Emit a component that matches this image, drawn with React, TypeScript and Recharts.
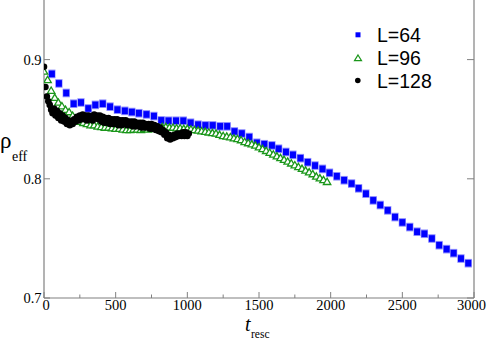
import React from 'react';
import { ScatterChart, Scatter, XAxis, YAxis } from 'recharts';

// ---- data ----
const t64 = [55, 104, 155, 207, 258, 309, 358, 410, 461, 512,
  564, 613, 662, 715, 767, 818, 869, 921, 972, 1023,
  1075, 1126, 1177, 1229, 1278, 1329, 1380, 1432, 1485, 1537,
  1590, 1637, 1688, 1737, 1789, 1840, 1891, 1943, 1992, 2043,
  2094, 2146, 2195, 2246, 2297, 2346, 2398, 2449, 2500, 2552,
  2603, 2654, 2706, 2757, 2809, 2858, 2909, 2960];
const rho64 = [0.888, 0.880, 0.872, 0.863, 0.864, 0.859, 0.862, 0.863, 0.8605, 0.858,
  0.857, 0.856, 0.855, 0.854, 0.8526, 0.849, 0.8487, 0.8487, 0.8487, 0.847,
  0.8454, 0.8448, 0.8448, 0.844, 0.844, 0.8397, 0.838, 0.835, 0.8302, 0.829,
  0.828, 0.8252, 0.8225, 0.8201, 0.8173, 0.8139, 0.8111, 0.8083, 0.805, 0.8021,
  0.7988, 0.796, 0.792, 0.7875, 0.7819, 0.778, 0.7735, 0.7679, 0.7634, 0.7595,
  0.7556, 0.7539, 0.7499, 0.7443, 0.741, 0.7376, 0.7331, 0.7292];

const t96 = [0, 25, 50, 75, 100, 125, 150, 175, 200, 225,
  250, 275, 300, 325, 350, 375, 400, 425, 450, 475,
  500, 525, 550, 575, 600, 625, 650, 675, 700, 725,
  750, 775, 800, 825, 850, 875, 900, 925, 950, 975,
  1000, 1025, 1050, 1075, 1100, 1125, 1150, 1175, 1200, 1225,
  1250, 1275, 1300, 1325, 1350, 1375, 1400, 1425, 1450, 1475,
  1500, 1525, 1550, 1575, 1600, 1625, 1650, 1675, 1700, 1725,
  1750, 1775, 1800, 1825, 1850, 1875, 1900, 1925, 1950, 1975];
const rho96 = [0.890, 0.883, 0.874, 0.868, 0.864, 0.861, 0.858, 0.856, 0.853, 0.850,
  0.848, 0.847, 0.846, 0.845, 0.845, 0.844, 0.8435, 0.843, 0.843, 0.8425,
  0.842, 0.842, 0.8415, 0.841, 0.841, 0.8415, 0.8415, 0.841, 0.842, 0.8415,
  0.842, 0.8425, 0.843, 0.8435, 0.8435, 0.843, 0.843, 0.8425, 0.8425, 0.842,
  0.842, 0.8415, 0.841, 0.8405, 0.840, 0.8395, 0.839, 0.8385, 0.838, 0.837,
  0.836, 0.8355, 0.835, 0.834, 0.8335, 0.8325, 0.831, 0.830, 0.829, 0.828,
  0.8265, 0.825, 0.8235, 0.822, 0.8205, 0.819, 0.8175, 0.816, 0.8145, 0.813,
  0.8115, 0.810, 0.8085, 0.807, 0.8055, 0.804, 0.802, 0.8005, 0.799, 0.7975];

const t128 = [0, 10, 20, 30, 40, 50, 60, 70, 80, 90,
  100, 110, 120, 130, 140, 150, 160, 170, 180, 190,
  200, 210, 220, 230, 240, 250, 260, 270, 280, 290,
  300, 310, 320, 330, 340, 350, 360, 370, 380, 390,
  400, 410, 420, 430, 440, 450, 460, 470, 480, 490,
  500, 510, 520, 530, 540, 550, 560, 570, 580, 590,
  600, 610, 620, 630, 640, 650, 660, 670, 680, 690,
  700, 710, 720, 730, 740, 750, 760, 770, 780, 790,
  800, 810, 820, 830, 840, 850, 860, 870, 880, 890,
  900, 910, 920, 930, 940, 950, 960, 970, 980, 990,
  1000, 1010];
const rho128 = [0.894, 0.877, 0.869, 0.865, 0.862, 0.858, 0.855, 0.859, 0.853, 0.857,
  0.851, 0.855, 0.849, 0.853, 0.848, 0.851, 0.846, 0.849, 0.845, 0.847,
  0.846, 0.850, 0.848, 0.852, 0.849, 0.853, 0.850, 0.854, 0.850, 0.853,
  0.849, 0.853, 0.850, 0.852, 0.849, 0.854, 0.851, 0.853, 0.850, 0.853,
  0.848, 0.852, 0.847, 0.851, 0.847, 0.851, 0.846, 0.850, 0.846, 0.850,
  0.846, 0.850, 0.845, 0.849, 0.845, 0.849, 0.846, 0.849, 0.845, 0.848,
  0.845, 0.848, 0.844, 0.848, 0.844, 0.847, 0.844, 0.847, 0.843, 0.847,
  0.843, 0.846, 0.843, 0.846, 0.842, 0.846, 0.842, 0.845, 0.841, 0.844,
  0.840, 0.843, 0.839, 0.841, 0.837, 0.839, 0.834, 0.837, 0.833, 0.836,
  0.834, 0.837, 0.835, 0.838, 0.836, 0.838, 0.836, 0.839, 0.836, 0.839,
  0.836, 0.838];

const xTicks = [0, 250, 500, 750, 1000, 1250, 1500, 1750, 2000, 2250, 2500, 2750, 3000];
const xMajor = [0, 500, 1000, 1500, 2000, 2500, 3000];
const yTicks = [0.7, 0.8, 0.9];
const yLabels = ['0.7', '0.8', '0.9'];
const seriesNames = ['L=64', 'L=96', 'L=128'];

const toData = (t: number[], r: number[]) => t.map((x, i) => ({ t: x, rho: r[i] }));
const data64 = toData(t64, rho64);
const data96 = toData(t96, rho96);
const data128 = toData(t128, rho128);

// ---- styles ----
const AXIS = '#808080';
const SERIF = "'Liberation Serif', 'Times New Roman', Times, serif";
const SANS = "'Liberation Sans', Arial, Helvetica, sans-serif";
const BLUE = '#0000ff';
const GREEN = '#1a961a';

const serifStyle = { fontFamily: SERIF };
const sansStyle = { fontFamily: SANS };

const BottomTick = (p: any) => {
  const { x, y, payload } = p;
  const v = payload.value;
  const major = xMajor.includes(v);
  return (
    <g>
      <line x1={x} x2={x} y1={y} y2={y - (major ? 6 : 3.5)} stroke={AXIS} strokeWidth={1} />
      {major && (
        <text x={x + (v === 0 ? 2 : v === 3000 ? -2.5 : 0)} y={y + 11.5} textAnchor="middle" style={serifStyle} fontSize={14.5} fill="#000">
          {String(v)}
        </text>
      )}
    </g>
  );
};

const TopTick = (p: any) => {
  const { x, y, payload } = p;
  const major = xMajor.includes(payload.value);
  return <line x1={x} x2={x} y1={y} y2={y + (major ? 6 : 4.5)} stroke={AXIS} strokeWidth={1} />;
};

const LeftTick = (p: any) => {
  const { x, y, payload } = p;
  const idx = yTicks.indexOf(payload.value);
  return (
    <g>
      <line x1={x} x2={x + 6} y1={y} y2={y} stroke={AXIS} strokeWidth={1} />
      <text x={x - 2.5} y={y + 5} textAnchor="end" style={serifStyle} fontSize={14.5} fill="#000">
        {idx >= 0 ? yLabels[idx] : ''}
      </text>
    </g>
  );
};

const RightTick = (p: any) => {
  const { x, y } = p;
  return <line x1={x} x2={x - 7} y1={y} y2={y} stroke={AXIS} strokeWidth={1} />;
};

const BlueSquare = (p: any) => {
  const { cx, cy } = p;
  if (cx == null || cy == null) return <g />;
  return (
    <g>
      <rect x={cx - 3.6} y={cy - 4.3} width={7.2} height={8.6} fill="#8c8cff" />
      <rect x={cx - 3} y={cy - 3.3} width={6} height={6.6} fill={BLUE} />
    </g>
  );
};

const GreenTriangle = (p: any) => {
  const { cx, cy } = p;
  if (cx == null || cy == null) return <g />;
  return (
    <polygon
      points={`${cx},${cy - 3.6} ${cx + 3.7},${cy + 2.7} ${cx - 3.7},${cy + 2.7}`}
      fill="#ffffff"
      stroke={GREEN}
      strokeWidth={1.3}
    />
  );
};

const BlackCircle = (p: any) => {
  const { cx, cy } = p;
  if (cx == null || cy == null) return <g />;
  return <circle cx={cx} cy={cy} r={3.3} fill="#000" />;
};

export default function App() {
  return (
    <div style={{ position: 'absolute', left: 0, top: 0, width: 491, height: 340, background: '#fff' }}>
      <ScatterChart width={491} height={340} margin={{ top: 0, right: 0, bottom: 0, left: 0 }}>
        <XAxis
          dataKey="t"
          type="number"
          domain={[0, 3000]}
          allowDataOverflow
          ticks={xTicks}
          interval={0}
          height={42}
          tickSize={0}
          tickMargin={0}
          tickLine={false}
          axisLine={{ stroke: AXIS, strokeWidth: 1.2 }}
          tick={BottomTick}
        />
        <XAxis
          xAxisId="top"
          orientation="top"
          type="number"
          domain={[0, 3000]}
          allowDataOverflow
          ticks={xTicks}
          interval={0}
          height={0}
          tickSize={0}
          tickMargin={0}
          tickLine={false}
          axisLine={false}
          tick={TopTick}
        />
        <YAxis
          dataKey="rho"
          type="number"
          domain={[0.7, 0.95]}
          allowDataOverflow
          ticks={yTicks}
          interval={0}
          width={44}
          tickSize={0}
          tickMargin={0}
          tickLine={false}
          axisLine={{ stroke: AXIS, strokeWidth: 1.2 }}
          tick={LeftTick}
        />
        <YAxis
          yAxisId="right"
          orientation="right"
          type="number"
          domain={[0.7, 0.95]}
          allowDataOverflow
          ticks={yTicks}
          interval={0}
          width={17}
          tickSize={0}
          tickMargin={0}
          tickLine={false}
          axisLine={{ stroke: AXIS, strokeWidth: 1.2 }}
          tick={RightTick}
        />
        <Scatter name={seriesNames[0]} data={data64} shape={BlueSquare} isAnimationActive={false} />
        <Scatter name={seriesNames[1]} data={data96} shape={GreenTriangle} isAnimationActive={false} />
        <Scatter name={seriesNames[2]} data={data128} shape={BlackCircle} isAnimationActive={false} />

        {/* axis titles */}
        <text x={0} y={148} style={serifStyle} fontSize={23} fill="#000">ρ</text>
        <text x={12} y={161} style={serifStyle} fontSize={14} fill="#000">eff</text>
        <text x={245} y={331} style={serifStyle} fontSize={20} fontStyle="italic" fill="#000">t</text>
        <text x={251} y={337.5} style={serifStyle} fontSize={11.5} fill="#000">resc</text>

        {/* legend */}
        <g>
          <rect x={355.5} y={32.3} width={5} height={5} fill={BLUE} />
          <polygon points="358,55 361.5,60.7 354.5,60.7" fill="#fff" stroke={GREEN} strokeWidth={1.2} />
          <circle cx={357.8} cy={80.5} r={2.8} fill="#000" />
          <text x={377} y={41.7} style={sansStyle} fontSize={19.5} fill="#000">{seriesNames[0]}</text>
          <text x={377} y={64.9} style={sansStyle} fontSize={19.5} fill="#000">{seriesNames[1]}</text>
          <text x={377} y={87.7} style={sansStyle} fontSize={19.5} fill="#000">{seriesNames[2]}</text>
        </g>
      </ScatterChart>
    </div>
  );
}
